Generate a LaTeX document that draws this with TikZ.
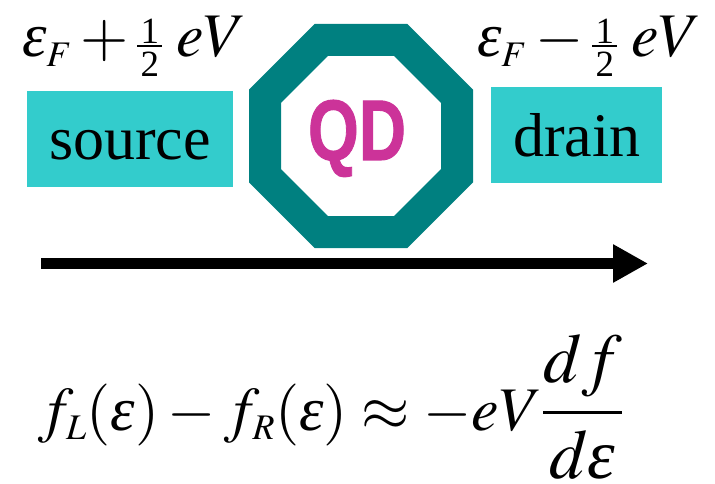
\documentclass[tikz,border=0pt]{standalone}
\usepackage{amsmath}
\usepackage{mathptmx}
\usepackage{fontspec}
\setmainfont{Liberation Serif}
\newfontfamily\qdfont{Liberation Sans}[BoldFeatures={FakeBold=1.2}]
\usepackage{graphicx}
\usetikzlibrary{arrows.meta}
\DeclareMathSizes{62}{62}{36}{31}
\definecolor{boxcyan}{HTML}{33CCCC}
\definecolor{octteal}{HTML}{008080}
\definecolor{qdmag}{HTML}{CC3399}
\newcommand\eps{\mathord{\text{\itshape ε}}}
\newcommand\myhalf{\mathord{\raisebox{-19.5pt}{\vbox{\offinterlineskip\fontsize{37}{37}\selectfont
  \hbox to 25pt{\hss 1\hss}\kern2pt\hrule height 1.6pt\kern 5pt\hbox to 25pt{\hss 2\hss}}}}\mkern4mu}
\begin{document}
\begin{tikzpicture}[x=1pt,y=-1pt,
  lbl/.style={inner sep=0pt, outer sep=0pt, font=\fontsize{62}{74}\selectfont},
  plate/.style={fill=boxcyan, draw=none, inner sep=0pt, outer sep=0pt},
  octo/.style={draw=octteal, line width=32pt, line join=miter},
  flow/.style={line width=11.5pt, -{Triangle[length=35pt,width=36pt]}}]
\useasboundingbox (0,0) rectangle (715,484);
\fill[white] (0,0) rectangle (715,484);
% source / drain plates
\node[plate, minimum width=206pt, minimum height=96pt] (srcbox) at (130,139) {};
\node[lbl, anchor=base] (src) at (130,160) {source};
\node[plate, minimum width=171pt, minimum height=96pt] (drnbox) at (576.5,135) {};
\node[lbl, anchor=base] (drn) at (577,157) {drain};
% quantum dot octagon
\coordinate (qdc) at (361,136);
\draw[octo] (400.8,40) -- (457,96.2) -- (457,175.8) -- (400.8,232) -- (321.2,232) -- (265,175.8) -- (265,96.2) -- (321.2,40) -- cycle;
\node[anchor=base, text=qdmag, inner sep=0pt, font=\qdfont\bfseries\fontsize{86}{100}\selectfont] (qd) at (357,160) {\scalebox{0.76}[1]{QD}};
% arrow
\coordinate (a0) at (41,263.5);
\coordinate (a1) at (648,263.5);
\draw[flow] (a0) -- (a1);
% chemical potentials
\node[lbl, anchor=base west] (muL) at (22,57) {$\eps_F + \myhalf eV$};
\node[lbl, anchor=base west] (muR) at (477,57) {$\eps_F - \myhalf eV$};
% formula
\node[lbl, anchor=base west] (eq) at (38,430) {$f_L(\eps) - f_R(\eps) \approx -eV \mbox{\fontsize{70}{84}\selectfont$\displaystyle\frac{df}{d\eps}$}$};
\end{tikzpicture}
\end{document}
